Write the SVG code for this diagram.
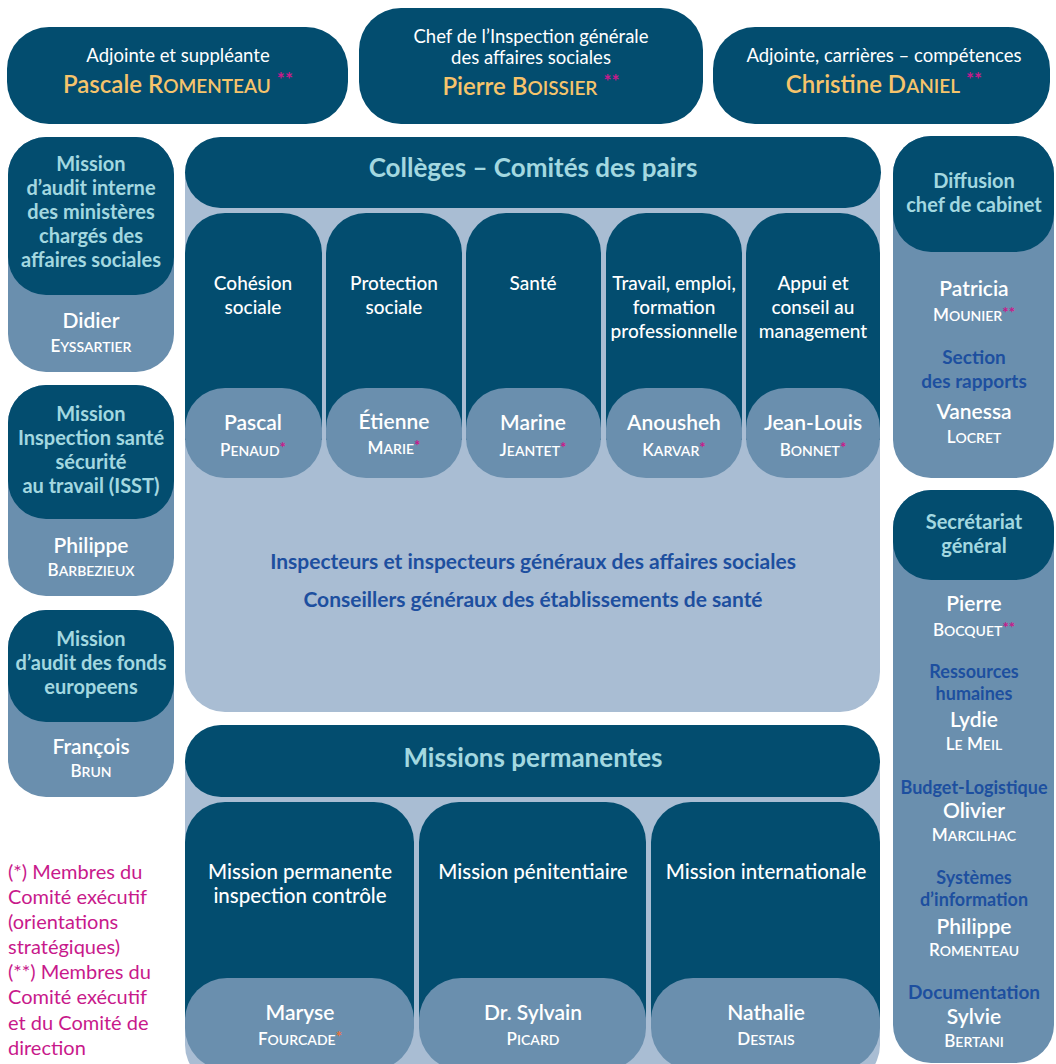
<svg xmlns="http://www.w3.org/2000/svg" width="1056" height="1064" viewBox="0 0 1056 1064">
<style>
.dk{fill:#034d6f}
.md{fill:#6a8fae}
.lt{fill:#a9bdd3}
text{font-family:Lato,"Open Sans","DejaVu Sans",sans-serif;text-anchor:middle}
.ttl{fill:#a3d8e0;font-weight:700;font-size:20px}
.big{fill:#a3d8e0;font-weight:700;font-size:26px}
.w{fill:#ffffff;font-size:19px;font-weight:500}
.w2{fill:#ffffff;font-size:20.5px;font-weight:500}
.top{fill:#ffffff;font-size:18.5px}
.gold{fill:#f6c46b;font-size:24px;font-weight:600}
.nm{fill:#ffffff;font-size:21px;font-weight:600}
.sc{fill:#ffffff;font-size:17px;font-weight:600}
.blue{fill:#1d4f9f;font-weight:700;font-size:21px}
.rb{fill:#1d4f9f;font-weight:700;font-size:19px}
.rs{fill:#1d4f9f;font-weight:700;font-size:18px}
.leg{fill:#c8198b;font-size:20px;text-anchor:start}
.ast{fill:#c8198b;font-weight:700}
.ora{fill:#e8703a;font-weight:700}
</style>
<rect width="1056" height="1064" fill="#ffffff"/>
<g id="connectors"/>

<g id="adjointe-suppleante">
<rect class="dk" x="7" y="27" width="341" height="97" rx="42"/>
<text class="top" x="178" y="62">Adjointe et suppléante</text>
<text class="gold" x="178" y="93">Pascale R<tspan font-size="19">OMENTEAU</tspan> <tspan class="ast" font-size="19" dy="-7">**</tspan></text>
</g>
<g id="chef">
<rect class="dk" x="359" y="8" width="344" height="116" rx="42"/>
<text class="top" x="531" y="43">Chef de l’Inspection générale</text>
<text class="top" x="531" y="64">des affaires sociales</text>
<text class="gold" x="531" y="95">Pierre B<tspan font-size="19">OISSIER</tspan> <tspan class="ast" font-size="19" dy="-7">**</tspan></text>
</g>
<g id="adjointe-carrieres">
<rect class="dk" x="713" y="27" width="337" height="97" rx="42"/>
<text class="top" x="884" y="62">Adjointe, carrières – compétences</text>
<text class="gold" x="884" y="93">Christine D<tspan font-size="19">ANIEL</tspan> <tspan class="ast" font-size="19" dy="-7">**</tspan></text>
</g>

<g id="mission-audit-interne">
<rect class="md" x="8" y="137" width="166" height="235" rx="38"/>
<rect class="dk" x="8" y="137" width="166" height="158" rx="38"/>
<text class="ttl" x="91" y="171">Mission</text>
<text class="ttl" x="91" y="195">d’audit interne</text>
<text class="ttl" x="91" y="219">des ministères</text>
<text class="ttl" x="91" y="243">chargés des</text>
<text class="ttl" x="91" y="267">affaires sociales</text>
<text class="nm" x="91" y="328">Didier</text>
<text class="sc" x="91" y="352">E<tspan font-size="14">YSSARTIER</tspan></text>
</g>
<g id="mission-isst">
<rect class="md" x="8" y="385" width="166" height="211" rx="38"/>
<rect class="dk" x="8" y="385" width="166" height="134" rx="38"/>
<text class="ttl" x="91" y="421">Mission</text>
<text class="ttl" x="91" y="445">Inspection santé</text>
<text class="ttl" x="91" y="469">sécurité</text>
<text class="ttl" x="91" y="493">au travail (ISST)</text>
<text class="nm" x="91" y="553">Philippe</text>
<text class="sc" x="91" y="576">B<tspan font-size="14">ARBEZIEUX</tspan></text>
</g>
<g id="mission-fonds-europeens">
<rect class="md" x="8" y="610" width="166" height="187" rx="38"/>
<rect class="dk" x="8" y="610" width="166" height="112" rx="38"/>
<text class="ttl" x="91" y="646">Mission</text>
<text class="ttl" x="91" y="670">d’audit des fonds</text>
<text class="ttl" x="91" y="694">europeens</text>
<text class="nm" x="91" y="754">François</text>
<text class="sc" x="91" y="777">B<tspan font-size="14">RUN</tspan></text>
</g>

<g id="legende">
<text class="leg" x="8" y="879">(*) Membres du</text>
<text class="leg" x="8" y="904">Comité exécutif</text>
<text class="leg" x="8" y="929">(orientations</text>
<text class="leg" x="8" y="954">stratégiques)</text>
<text class="leg" x="8" y="979">(**) Membres du</text>
<text class="leg" x="8" y="1004">Comité exécutif</text>
<text class="leg" x="8" y="1030">et du Comité de</text>
<text class="leg" x="8" y="1055">direction</text>
</g>

<g id="colleges">
<rect class="lt" x="185" y="137" width="695" height="575" rx="40"/>
<rect class="dk" x="185" y="137" width="696" height="71" rx="35.5"/>
<text class="big" x="533" y="177">Collèges – Comités des pairs</text>
<text class="blue" x="533" y="569">Inspecteurs et inspecteurs généraux des affaires sociales</text>
<text class="blue" x="533" y="607">Conseillers généraux des établissements de santé</text>
</g>
<g id="college-cohesion">
<path class="dk" d="M185,253 a40,40 0 0 1 40,-40 h57 a40,40 0 0 1 40,40 V440 H185 Z"/>
<rect class="md" x="185" y="388" width="137" height="90" rx="40"/>
<text class="w" x="253" y="290">Cohésion</text>
<text class="w" x="253" y="314">sociale</text>
<text class="nm" x="253" y="430">Pascal</text>
<text class="sc" x="253" y="456">P<tspan font-size="14">ENAUD</tspan><tspan class="ast" font-size="15" dy="-3">*</tspan></text>
</g>
<g id="college-protection">
<path class="dk" d="M326,253 a40,40 0 0 1 40,-40 h56 a40,40 0 0 1 40,40 V440 H326 Z"/>
<rect class="md" x="326" y="388" width="136" height="90" rx="40"/>
<text class="w" x="394" y="290">Protection</text>
<text class="w" x="394" y="314">sociale</text>
<text class="nm" x="394" y="429">Étienne</text>
<text class="sc" x="394" y="454">M<tspan font-size="14">ARIE</tspan><tspan class="ast" font-size="15" dy="-3">*</tspan></text>
</g>
<g id="college-sante">
<path class="dk" d="M466,253 a40,40 0 0 1 40,-40 h55 a40,40 0 0 1 40,40 V440 H466 Z"/>
<rect class="md" x="466" y="388" width="135" height="90" rx="40"/>
<text class="w" x="533" y="290">Santé</text>
<text class="nm" x="533" y="430">Marine</text>
<text class="sc" x="533" y="456">J<tspan font-size="14">EANTET</tspan><tspan class="ast" font-size="15" dy="-3">*</tspan></text>
</g>
<g id="college-travail">
<path class="dk" d="M606,253 a40,40 0 0 1 40,-40 h56 a40,40 0 0 1 40,40 V440 H606 Z"/>
<rect class="md" x="606" y="388" width="136" height="90" rx="40"/>
<text class="w" x="674" y="290">Travail, emploi,</text>
<text class="w" x="674" y="314">formation</text>
<text class="w" x="674" y="338">professionnelle</text>
<text class="nm" x="674" y="430">Anousheh</text>
<text class="sc" x="674" y="456">K<tspan font-size="14">ARVAR</tspan><tspan class="ast" font-size="15" dy="-3">*</tspan></text>
</g>
<g id="college-appui">
<path class="dk" d="M746,253 a40,40 0 0 1 40,-40 h54 a40,40 0 0 1 40,40 V440 H746 Z"/>
<rect class="md" x="746" y="388" width="134" height="90" rx="40"/>
<text class="w" x="813" y="290">Appui et</text>
<text class="w" x="813" y="314">conseil au</text>
<text class="w" x="813" y="338">management</text>
<text class="nm" x="813" y="430">Jean-Louis</text>
<text class="sc" x="813" y="456">B<tspan font-size="14">ONNET</tspan><tspan class="ast" font-size="15" dy="-3">*</tspan></text>
</g>

<g id="missions-permanentes">
<rect class="lt" x="185" y="725" width="695" height="360" rx="40"/>
<rect class="dk" x="185" y="725" width="695" height="72" rx="36"/>
<text class="big" x="533" y="767">Missions permanentes</text>
</g>
<g id="mission-inspection-controle">
<path class="dk" d="M185,842 a40,40 0 0 1 40,-40 h149 a40,40 0 0 1 40,40 V1020 H185 Z"/>
<rect class="md" x="185" y="978" width="229" height="92" rx="42"/>
<text class="w2" x="300" y="879">Mission permanente</text>
<text class="w2" x="300" y="903">inspection contrôle</text>
<text class="nm" x="300" y="1020">Maryse</text>
<text class="sc" x="300" y="1045">F<tspan font-size="14">OURCADE</tspan><tspan class="ora" font-size="15" dy="-3">*</tspan></text>
</g>
<g id="mission-penitentiaire">
<path class="dk" d="M419,842 a40,40 0 0 1 40,-40 h147 a40,40 0 0 1 40,40 V1020 H419 Z"/>
<rect class="md" x="419" y="978" width="227" height="92" rx="42"/>
<text class="w2" x="533" y="879">Mission pénitentiaire</text>
<text class="nm" x="533" y="1020">Dr. Sylvain</text>
<text class="sc" x="533" y="1045">P<tspan font-size="14">ICARD</tspan></text>
</g>
<g id="mission-internationale">
<path class="dk" d="M651,842 a40,40 0 0 1 40,-40 h149 a40,40 0 0 1 40,40 V1020 H651 Z"/>
<rect class="md" x="651" y="978" width="229" height="92" rx="42"/>
<text class="w2" x="766" y="879">Mission internationale</text>
<text class="nm" x="766" y="1020">Nathalie</text>
<text class="sc" x="766" y="1045">D<tspan font-size="14">ESTAIS</tspan></text>
</g>

<g id="diffusion">
<rect class="md" x="893" y="136" width="161" height="342" rx="38"/>
<rect class="dk" x="893" y="136" width="161" height="116" rx="38"/>
<text class="ttl" x="974" y="188">Diffusion</text>
<text class="ttl" x="974" y="212">chef de cabinet</text>
<text class="nm" x="974" y="296">Patricia</text>
<text class="sc" x="974" y="321">M<tspan font-size="14">OUNIER</tspan><tspan class="ast" font-size="15" dy="-3">**</tspan></text>
<text class="rb" x="974" y="364">Section</text>
<text class="rb" x="974" y="388">des rapports</text>
<text class="nm" x="974" y="419">Vanessa</text>
<text class="sc" x="974" y="443">L<tspan font-size="14">OCRET</tspan></text>
</g>
<g id="secretariat-general">
<rect class="md" x="893" y="490" width="161" height="573" rx="38"/>
<rect class="dk" x="893" y="490" width="161" height="90" rx="38"/>
<text class="ttl" x="974" y="529">Secrétariat</text>
<text class="ttl" x="974" y="553">général</text>
<text class="nm" x="974" y="611">Pierre</text>
<text class="sc" x="974" y="636">B<tspan font-size="14">OCQUET</tspan><tspan class="ast" font-size="15" dy="-3">**</tspan></text>
<text class="rs" x="974" y="678">Ressources</text>
<text class="rs" x="974" y="700">humaines</text>
<text class="nm" x="974" y="727">Lydie</text>
<text class="sc" x="974" y="750">L<tspan font-size="14">E</tspan> M<tspan font-size="14">EIL</tspan></text>
<text class="rs" x="974" y="794">Budget-Logistique</text>
<text class="nm" x="974" y="818">Olivier</text>
<text class="sc" x="974" y="841">M<tspan font-size="14">ARCILHAC</tspan></text>
<text class="rs" x="974" y="884">Systèmes</text>
<text class="rs" x="974" y="906">d’information</text>
<text class="nm" x="974" y="934">Philippe</text>
<text class="sc" x="974" y="956">R<tspan font-size="14">OMENTEAU</tspan></text>
<text class="rb" x="974" y="999">Documentation</text>
<text class="nm" x="974" y="1024">Sylvie</text>
<text class="sc" x="974" y="1047">B<tspan font-size="14">ERTANI</tspan></text>
</g>
</svg>
